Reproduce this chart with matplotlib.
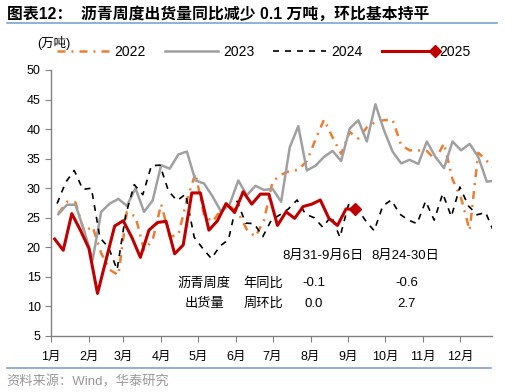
import matplotlib
matplotlib.use("Agg")
import matplotlib.pyplot as plt
from matplotlib.lines import Line2D
from matplotlib.legend_handler import HandlerLine2D
import numpy as np
import pandas as pd

plt.rcParams['font.family'] = ['Liberation Sans', 'Noto Sans CJK SC']

# weekly asphalt shipments (万吨)
v2022 = [25.7, 27.7, 27.6, 22.7, 23.5, 19.0, 16.2, 15.3, 26.0, 25.2,
         19.6, 21.2, 27.3, 21.8, 22.1, 28.0, 32.5, 25.5, 24.3, 26.4,
         27.0, 25.8, 23.0, 21.8, 24.6, 31.1, 32.3, 32.9, 33.1, 34.6,
         38.2, 41.6, 38.6, 35.8, 39.5, 38.4, 40.3, 41.2, 41.5, 41.6,
         37.3, 36.4, 36.4, 36.3, 34.8, 37.6, 31.5, 28.3, 22.9, 36.0,
         34.6, 33.2]
v2023 = [25.6, 27.2, 27.2, 22.9, 17.9, 26.0, 27.4, 28.2, 27.0, 30.0,
         26.0, 27.9, 33.9, 33.3, 35.7, 36.2, 31.3, 30.8, 28.6, 26.0,
         27.3, 31.3, 28.8, 30.4, 29.7, 29.9, 27.7, 36.9, 40.5, 33.0,
         33.8, 35.3, 36.3, 34.6, 40.1, 41.5, 37.9, 44.2, 39.8, 36.2,
         34.2, 34.8, 34.1, 37.9, 35.3, 33.4, 37.9, 36.4, 37.5, 35.3,
         31.1, 31.3]
v2024 = [27.4, 31.0, 33.0, 29.8, 30.0, 21.6, 20.0, 16.2, 25.5, 30.6,
         28.9, 33.8, 33.9, 29.5, 27.9, 29.0, 21.7, 19.8, 18.1, 20.2,
         21.3, 27.8, 24.1, 24.0, 21.8, 24.6, 25.5, 26.5, 28.0, 25.6,
         25.0, 23.4, 25.3, 21.7, 27.2, 26.6, 24.5, 22.8, 27.0, 28.0,
         25.6, 24.6, 24.0, 27.8, 24.6, 29.1, 25.2, 30.2, 27.0, 25.5,
         25.9, 22.5]
v2025 = [21.4, 19.5, 25.7, 22.9, 19.8, 12.2, 17.9, 23.6, 24.5, 21.7,
         18.3, 22.9, 24.2, 24.4, 18.9, 20.4, 29.2, 29.2, 22.9, 24.5,
         27.4, 25.9, 29.4, 27.3, 29.0, 29.0, 23.7, 26.0, 24.9, 26.9,
         27.3, 28.0, 24.9, 23.7, 26.5, 26.4]

first_week = {'2022': '2022-01-07', '2023': '2023-01-07',
              '2024': '2024-01-06', '2025': '2025-01-04'}

month_days = [0, 31, 59, 90, 120, 151, 181, 212, 243, 273, 304, 334]
month_labels = ['%d月' % m for m in range(1, 13)]


def day_of_year(year, n):
    d = pd.date_range(first_week[year], periods=n, freq='7D')
    return np.asarray((d - pd.Timestamp(int(year), 1, 1)).days)


class EndMarkerHandler(HandlerLine2D):
    # legend line with the marker sitting on its right end
    def create_artists(self, *args, **kwargs):
        arts = super().create_artists(*args, **kwargs)
        for a in arts:
            a.set_markevery([len(a.get_xdata()) - 1])
        return arts


fig = plt.figure(figsize=(5.13, 3.92), dpi=100)
ax = fig.add_axes([0.0994, 0.1429, 0.8591, 0.6786])

l22, = ax.plot(day_of_year('2022', len(v2022)), v2022, color='#ED7D31', lw=1.8,
               dashes=(3.2, 2.4, 0.8, 2.4), label='2022')
l23, = ax.plot(day_of_year('2023', len(v2023)), v2023, color='#A0A0A0', lw=1.8,
               label='2023')
l24, = ax.plot(day_of_year('2024', len(v2024)), v2024, color='black', lw=1.2,
               dashes=(3.6, 3.6), label='2024')
l25, = ax.plot(day_of_year('2025', len(v2025)), v2025, color='#C00000', lw=2.2,
               marker='D', markersize=6.5, markevery=[len(v2025) - 1], label='2025')

ax.set_xlim(0, 360)
ax.set_ylim(5, 50)
ax.set_yticks(range(5, 51, 5))
ax.set_xticks(month_days)
ax.set_xticklabels(month_labels)
for s in ['top', 'right']:
    ax.spines[s].set_visible(False)
for s in ['left', 'bottom']:
    ax.spines[s].set_color('#808080')
    ax.spines[s].set_linewidth(1.0)
ax.tick_params(axis='both', colors='#808080', labelcolor='black', labelsize=9,
               direction='out', length=4)
ax.tick_params(axis='x', pad=7)

fig.legend(handles=[l22, l23, l24, l25], loc='center', ncol=4, frameon=False,
           bbox_to_anchor=(0.514, 0.868), fontsize=10, handlelength=3.8,
           handletextpad=0.35, columnspacing=1.4,
           handler_map={l25: EndMarkerHandler()})
fig.text(0.072, 1 - 43 / 392, '(万吨)', fontsize=9, ha='left', va='center')

# weekly summary table
tk = dict(fontsize=9.5, ha='center', va='center')
fig.text(323 / 513, 1 - 256 / 392, '8月31-9月6日', **tk)
fig.text(405 / 513, 1 - 256 / 392, '8月24-30日', **tk)
fig.text(204 / 513, 1 - 283 / 392, '沥青周度', **tk)
fig.text(204 / 513, 1 - 304 / 392, '出货量', **tk)
fig.text(263 / 513, 1 - 283 / 392, '年同比', **tk)
fig.text(263 / 513, 1 - 304 / 392, '周环比', **tk)
fig.text(314 / 513, 1 - 283 / 392, '-0.1', **tk)
fig.text(314 / 513, 1 - 304 / 392, '0.0', **tk)
fig.text(407 / 513, 1 - 283 / 392, '-0.6', **tk)
fig.text(406 / 513, 1 - 304 / 392, '2.7', **tk)

fig.text(0.013, 1 - 14 / 392, '图表12：  沥青周度出货量同比减少 0.1 万吨，环比基本持平',
         fontsize=11.4, fontweight='bold', ha='left', va='center')
fig.add_artist(Line2D([0.013, 0.968], [0.9405, 0.9405], transform=fig.transFigure,
                      color='#7FA3CF', lw=1.2))
fig.add_artist(Line2D([0.013, 0.958], [0.0605, 0.0605], transform=fig.transFigure,
                      color='#7FA3CF', lw=1.2))
fig.text(0.013, 0.026, '资料来源：Wind，华泰研究', fontsize=9.5, color='#999999',
         ha='left', va='center')

fig.savefig('out.png', dpi=100)
